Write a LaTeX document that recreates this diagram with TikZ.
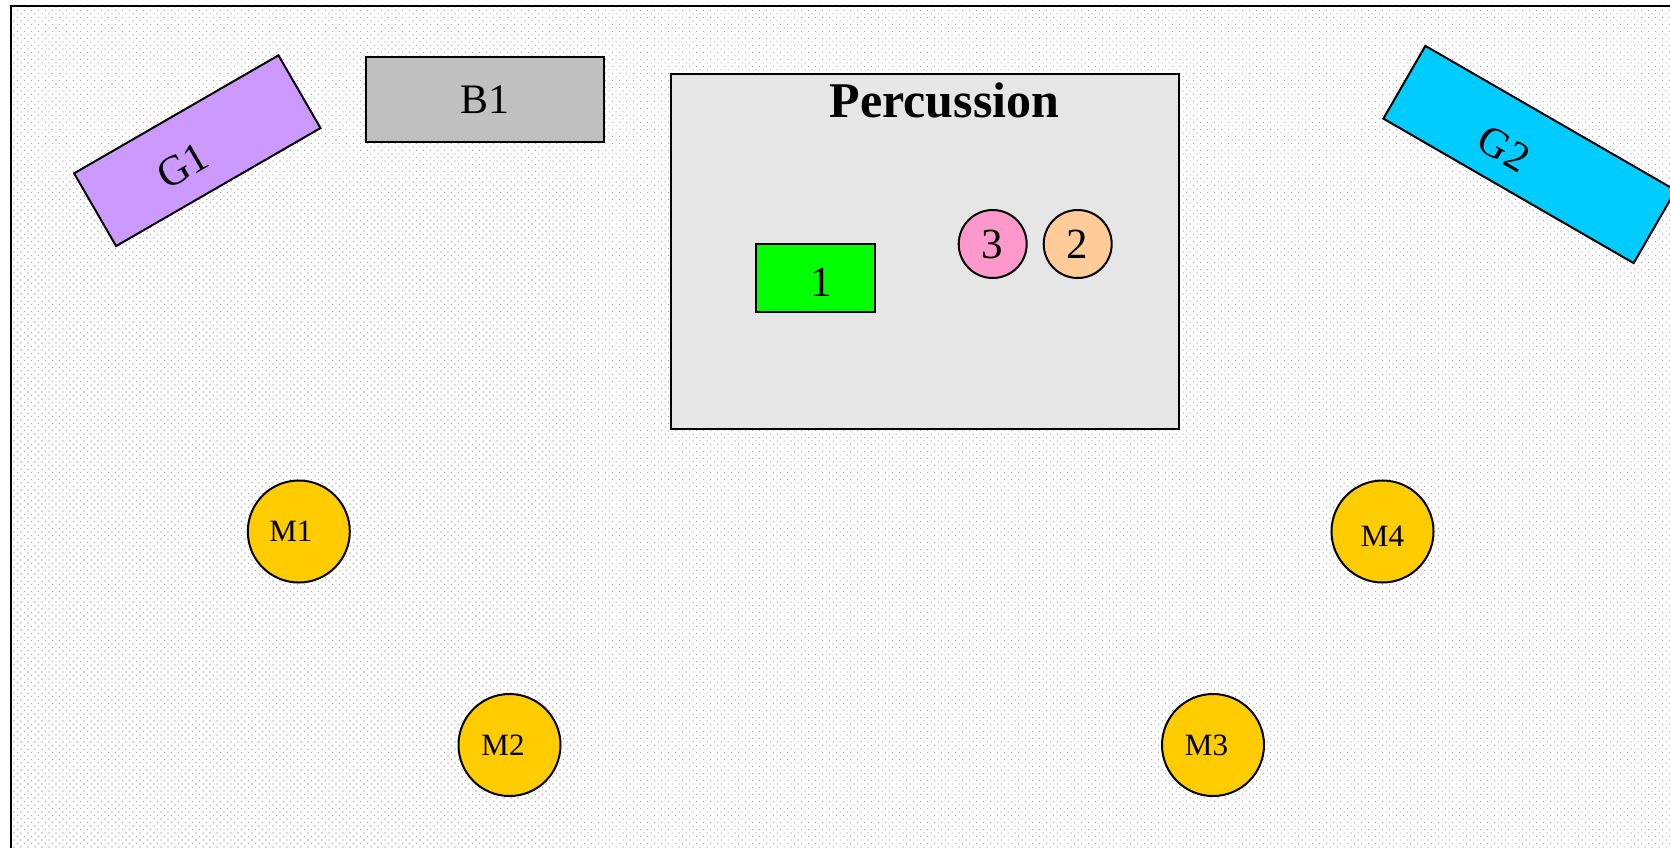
\documentclass[tikz,border=0pt]{standalone}
\usepackage{fontspec}
\setmainfont{Liberation Serif}
\usetikzlibrary{patterns.meta}
\definecolor{gpurple}{HTML}{CC99FF}
\definecolor{gcyan}{HTML}{00CCFF}
\definecolor{bgray}{HTML}{C0C0C0}
\definecolor{pgreen}{HTML}{00FF00}
\definecolor{ppink}{HTML}{FF99CC}
\definecolor{ppeach}{HTML}{FFCC99}
\definecolor{myellow}{HTML}{FFCC00}
\definecolor{percbg}{HTML}{E6E6E6}
\newcommand{\lowertext}[2]{\raisebox{-#1}[\height][\depth]{#2}}
\tikzset{
  outline/.style={draw=black, line width=2pt},
  guitar/.style={outline, rectangle, minimum width=236pt, minimum height=84pt, inner sep=0pt, font=\fontsize{42}{48}\selectfont},
  bigtxt/.style={font=\fontsize{42}{48}\selectfont, inner sep=0pt},
  mic/.style={outline, circle, fill=myellow, minimum size=102pt, inner sep=0pt, font=\fontsize{31}{36}\selectfont},
  drum/.style={outline, circle, minimum size=68pt, inner sep=0pt, font=\fontsize{43}{48}\selectfont},
}
\begin{document}
\begin{tikzpicture}[x=1pt, y=-1pt]
\useasboundingbox (0,0) rectangle (1670,847);
\begin{scope}
\clip (0,0) rectangle (1670,847);
\fill[white] (0,0) rectangle (1670,847);
% stage frame with dotted background
\fill[white] (11,6) rectangle (1720,900);
\fill[pattern={Dots[distance=4.95pt, angle=45, radius=0.75pt]}, pattern color=gray!65] (11,6) rectangle (1720,900);
\draw[line width=2.5pt] (11,6) rectangle (1720,900);

% guitars
\node[guitar, fill=gpurple, rotate=30] (G1) at (197.3,150.7) {\lowertext{6pt}{G1}\hspace*{40pt}};
\node[guitar, fill=gcyan, rotate=-30, minimum width=289pt] (G2) at (1529.5,154.5) {\lowertext{8pt}{G2}\hspace*{50pt}};

% bass
\node[outline, rectangle, fill=bgray, minimum width=238pt, minimum height=85pt, inner sep=0pt, bigtxt] (B1) at (485,99.8) {B1};

% percussion area
\node[outline, rectangle, fill=percbg, minimum width=508pt, minimum height=355pt, inner sep=0pt] (perc) at (925,251.5) {};
\node[font=\bfseries\fontsize{50}{56}\selectfont, inner sep=0pt, anchor=base] (perct) at (944.5,117.7) {Percussion};
\node[outline, rectangle, fill=pgreen, minimum width=119pt, minimum height=68pt, inner sep=0pt, font=\fontsize{43}{48}\selectfont] (P1) at (815.3,277.5) {\hspace*{12pt}\lowertext{5pt}{1}};
\node[drum, fill=ppink] (P3) at (992.7,244) {3};
\node[drum, fill=ppeach] (P2) at (1077.7,244) {2};

% microphones
\node[mic] (M1) at (298.8,531.5) {M1\hspace*{16pt}};
\node[mic] (M2) at (509.5,745) {M2\hspace*{13pt}};
\node[mic] (M3) at (1213,745) {M3\hspace*{13pt}};
\node[mic] (M4) at (1382.5,531.5) {\lowertext{5pt}{M4}};
\end{scope}
\end{tikzpicture}
\end{document}
